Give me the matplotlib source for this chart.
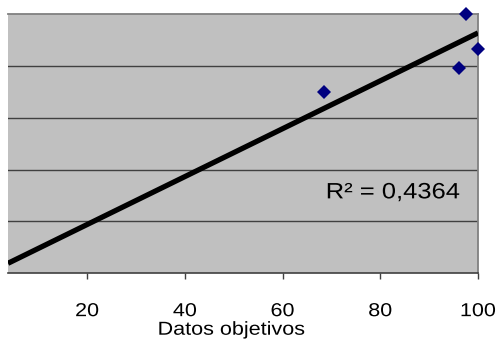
import matplotlib
matplotlib.use("Agg")
import matplotlib.pyplot as plt
import numpy as np
from matplotlib.patheffects import AbstractPathEffect
from matplotlib.transforms import Affine2D

# Observed points
datos_objetivos = [68.4, 97.5, 96.1, 100.0]
datos_valores = [69.9, 100.0, 79.1, 86.4]

# Linear trendline (slope, intercept) and its reported fit
trend_slope = 0.9235
trend_intercept = 0.35
r2_label = "R² = 0,4364"

x_ticks = [20, 40, 60, 80, 100]
y_grid = [0, 20, 40, 60, 80, 100]
x_range = (3.8, 100.0)
y_range = (0, 100)


class WideText(AbstractPathEffect):
    """Widen glyphs horizontally about the centre of the text."""

    def __init__(self, sx=1.15):
        super().__init__()
        self.sx = sx

    def draw_path(self, renderer, gc, tpath, affine, rgbFace=None):
        ext = tpath.get_extents()
        cx = 0.5 * (ext.x0 + ext.x1)
        stretch = Affine2D().translate(-cx, 0).scale(self.sx, 1).translate(cx, 0)
        renderer.draw_path(gc, tpath, stretch + affine, rgbFace)


plt.rcParams["font.family"] = ["Liberation Sans", "DejaVu Sans"]
wide = [WideText(1.15)]

fig = plt.figure(figsize=(4.99, 3.40), dpi=100)
ax = fig.add_axes([8 / 499, 1 - 273.3 / 340, 470 / 499, 259.3 / 340])
ax.set_facecolor("#C0C0C0")
ax.set_xlim(*x_range)
ax.set_ylim(*y_range)

# horizontal gridlines
for yv in y_grid[1:-1]:
    ax.axhline(yv, color="#404040", lw=1.0, zorder=1)

# trendline across the full x range
xt = np.array(x_range)
ax.plot(xt, trend_slope * xt + trend_intercept, color="black", lw=3.8,
        solid_capstyle="butt", zorder=3)

ax.plot(datos_objetivos, datos_valores, linestyle="none", marker="D",
        markersize=7.0, color="#000080", markeredgewidth=0, clip_on=False,
        zorder=4)

ax.text(0.819, 0.289, r2_label, transform=ax.transAxes, ha="center",
        va="baseline", fontsize=16, color="black", zorder=5,
        path_effects=wide)

ax.spines["left"].set_visible(False)
ax.spines["top"].set_color("#808080")
ax.spines["top"].set_linewidth(1.3)
ax.spines["right"].set_color("#808080")
ax.spines["right"].set_linewidth(1.3)
ax.spines["bottom"].set_color("#404040")
ax.spines["bottom"].set_linewidth(1.2)
ax.spines["top"].set_zorder(2)
ax.spines["right"].set_zorder(2)

ax.set_yticks([])
ax.set_xticks(x_ticks)
ax.set_xticklabels([str(t) for t in x_ticks])
ax.tick_params(axis="x", direction="out", length=4.5, width=1.0,
               color="#404040", pad=17, labelsize=13.5)
for lbl in ax.get_xticklabels():
    lbl.set_path_effects(wide)

ax.set_xlabel("Datos objetivos", fontsize=13.5, path_effects=wide)
ax.xaxis.set_label_coords(0.4745, -0.1867)

fig.savefig("out.png", dpi=100)
